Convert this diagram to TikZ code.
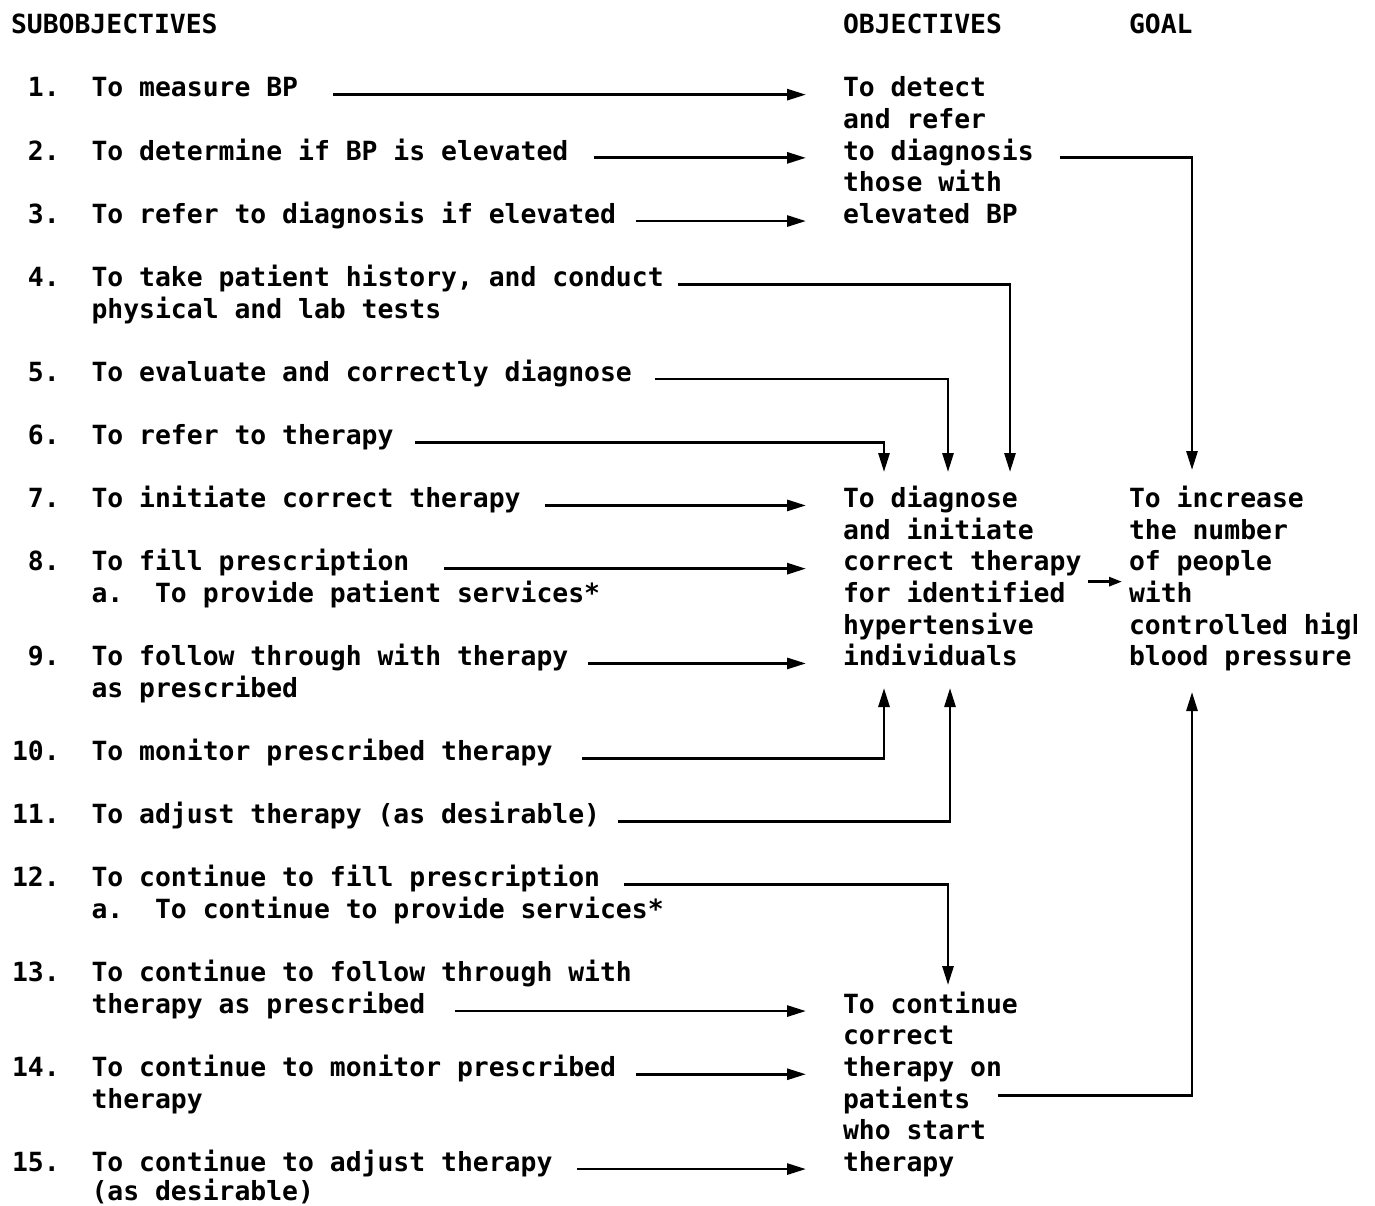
\documentclass[tikz,border=0pt]{standalone}
\usepackage{fontspec}
\newfontfamily\twfont{DejaVu Sans Mono}
\usetikzlibrary{arrows.meta}
\newcommand{\tw}{\twfont\bfseries\fontsize{26.4}{31.6}\selectfont\frenchspacing}
\tikzset{
  txt/.style={inner sep=0pt, outer sep=0pt, anchor=base west, font=\tw},
  num/.style={inner sep=0pt, outer sep=0pt, anchor=base east, font=\tw},
  conn/.style={line width=2.8pt, -{Triangle[length=19pt,width=11pt]}},
  smallconn/.style={line width=2.8pt, -{Triangle[length=13pt,width=9pt]}}
}
\begin{document}
\begin{tikzpicture}[x=1pt,y=-1pt]
\useasboundingbox (0,0) rectangle (1375,1205);
\fill[white] (0,0) rectangle (1375,1205);

% headings
\node[txt] (hsub) at (11,33.6) {SUBOBJECTIVES};
\node[txt] (hobj) at (843,33.6) {OBJECTIVES};
\node[txt] (hgoal) at (1129,33.6) {GOAL};

% numbers
\node[num] (n1) at (59.7,96.8) {1.};
\node[num] (n2) at (59.7,160.0) {2.};
\node[num] (n3) at (59.7,223.2) {3.};
\node[num] (n4) at (59.7,286.4) {4.};
\node[num] (n5) at (59.7,381.2) {5.};
\node[num] (n6) at (59.7,444.4) {6.};
\node[num] (n7) at (59.7,507.6) {7.};
\node[num] (n8) at (59.7,570.8) {8.};
\node[num] (n9) at (59.7,665.6) {9.};
\node[num] (n10) at (59.7,760.4) {10.};
\node[num] (n11) at (59.7,823.6) {11.};
\node[num] (n12) at (59.7,886.8) {12.};
\node[num] (n13) at (59.7,981.6) {13.};
\node[num] (n14) at (59.7,1076.4) {14.};
\node[num] (n15) at (59.7,1171.2) {15.};

% subobjectives
\node[txt] (r1) at (91.5,96.8) {To measure BP};
\node[txt] (r2) at (91.5,160.0) {To determine if BP is elevated};
\node[txt] (r3) at (91.5,223.2) {To refer to diagnosis if elevated};
\node[txt] (r4) at (91.5,286.4) {To take patient history, and conduct};
\node[txt] (r4b) at (91.5,318.0) {physical and lab tests};
\node[txt] (r5) at (91.5,381.2) {To evaluate and correctly diagnose};
\node[txt] (r6) at (91.5,444.4) {To refer to therapy};
\node[txt] (r7) at (91.5,507.6) {To initiate correct therapy};
\node[txt] (r8) at (91.5,570.8) {To fill prescription};
\node[txt] (r8b) at (91.5,602.4) {a.\ \ To provide patient services*};
\node[txt] (r9) at (91.5,665.6) {To follow through with therapy};
\node[txt] (r9b) at (91.5,697.2) {as prescribed};
\node[txt] (r10) at (91.5,760.4) {To monitor prescribed therapy};
\node[txt] (r11) at (91.5,823.6) {To adjust therapy (as desirable)};
\node[txt] (r12) at (91.5,886.8) {To continue to fill prescription};
\node[txt] (r12b) at (91.5,918.4) {a.\ \ To continue to provide services*};
\node[txt] (r13) at (91.5,981.6) {To continue to follow through with};
\node[txt] (r13b) at (91.5,1013.2) {therapy as prescribed};
\node[txt] (r14) at (91.5,1076.4) {To continue to monitor prescribed};
\node[txt] (r14b) at (91.5,1108.0) {therapy};
\node[txt] (r15) at (91.5,1171.2) {To continue to adjust therapy};
\node[txt] (r15b) at (91.5,1200.2) {(as desirable)};

% objectives
\node[txt] (o1a) at (843,96.8) {To detect};
\node[txt] (o1b) at (843,128.4) {and refer};
\node[txt] (o1c) at (843,160.0) {to diagnosis};
\node[txt] (o1d) at (843,191.6) {those with};
\node[txt] (o1e) at (843,223.2) {elevated BP};

\node[txt] (o2a) at (843,507.6) {To diagnose};
\node[txt] (o2b) at (843,539.2) {and initiate};
\node[txt] (o2c) at (843,570.8) {correct therapy};
\node[txt] (o2d) at (843,602.4) {for identified};
\node[txt] (o2e) at (843,634.0) {hypertensive};
\node[txt] (o2f) at (843,665.6) {individuals};

\node[txt] (o3a) at (843,1013.2) {To continue};
\node[txt] (o3b) at (843,1044.8) {correct};
\node[txt] (o3c) at (843,1076.4) {therapy on};
\node[txt] (o3d) at (843,1108.0) {patients};
\node[txt] (o3e) at (843,1139.6) {who start};
\node[txt] (o3f) at (843,1171.2) {therapy};

% goal
\node[txt] (g1) at (1129,507.6) {To increase};
\node[txt] (g2) at (1129,539.2) {the number};
\node[txt] (g3) at (1129,570.8) {of people};
\node[txt] (g4) at (1129,602.4) {with};
\begin{scope}
  \clip (1100,600) rectangle (1356,650);
  \node[txt] (g5) at (1129,634.0) {controlled high};
\end{scope}
\node[txt] (g6) at (1129,665.6) {blood pressure};

% tip coordinates
\coordinate (t4) at (1010,472);
\coordinate (t5) at (948,472);
\coordinate (t6) at (884,472);
\coordinate (t10) at (884,688);
\coordinate (t11) at (950,688);
\coordinate (t12) at (948,985);
\coordinate (tg1) at (1192,470);
\coordinate (tg2) at (1192,692);

% connectors into objective 1
\draw[conn] ([xshift=35pt]r1.mid east) -- ([xshift=-37pt]o1a.mid west);
\draw[conn] ([xshift=25.5pt]r2.mid east) -- ([xshift=-37pt]o1c.mid west);
\draw[conn] ([xshift=20pt]r3.mid east) -- ([xshift=-37pt]o1e.mid west);

% connectors into objective 2
\draw[conn] ([xshift=14pt]r4.mid east) -| (t4);
\draw[conn] ([xshift=23pt]r5.mid east) -| (t5);
\draw[conn] ([xshift=22pt]r6.mid east) -| (t6);
\draw[conn] ([xshift=24pt]r7.mid east) -- ([xshift=-37pt]o2a.mid west);
\draw[conn] ([xshift=35pt]r8.mid east) -- ([xshift=-37pt]o2c.mid west);
\draw[conn] ([xshift=20pt]r9.mid east) -- ([xshift=-37pt]o2f.mid west);
\draw[conn] ([xshift=30pt]r10.mid east) -| (t10);
\draw[conn] ([xshift=18pt]r11.mid east) -| (t11);

% connectors into objective 3
\draw[conn] ([xshift=24pt]r12.mid east) -| (t12);
\draw[conn] ([xshift=30pt]r13b.mid east) -- ([xshift=-37pt]o3a.mid west);
\draw[conn] ([xshift=20pt]r14.mid east) -- ([xshift=-37pt]o3c.mid west);
\draw[conn] ([xshift=25pt]r15.mid east) -- ([xshift=-37pt]o3f.mid west);

% connectors into goal
\draw[conn] ([xshift=26pt]o1c.mid east) -| (tg1);
\draw[smallconn] ([xshift=7pt,yshift=-13pt]o2c.mid east) -- ([xshift=-7pt,yshift=-13pt]g3.mid west);
\draw[conn] ([xshift=-4pt,yshift=-21pt]o3c.mid east) -| (tg2);
\end{tikzpicture}
\end{document}
